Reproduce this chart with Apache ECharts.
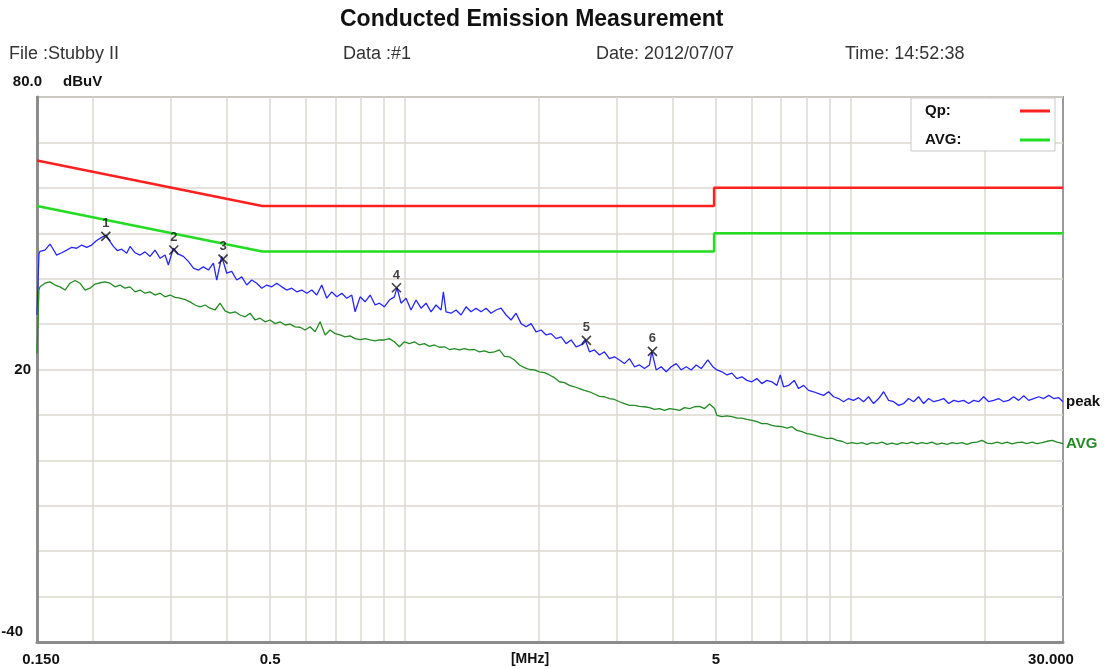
<!DOCTYPE html>
<html>
<head>
<meta charset="utf-8">
<title>Conducted Emission Measurement</title>
<script src="https://cdn.jsdelivr.net/npm/echarts@6/dist/echarts.min.js"></script>
<style>
    html, body { margin: 0; padding: 0; background: #fff; }
    #main { width: 1108px; height: 669px; }
</style>
</head>
<body>
<div id="main"></div>
<script>
// 限值线 (MHz / dBuV)
const qpLimitFreq = [0.15, 0.48, 4.95, 4.95, 30]
const qpLimitLevel = [66, 56, 56, 60, 60]
const avgLimitFreq = [0.15, 0.48, 4.95, 4.95, 30]
const avgLimitLevel = [56, 46, 46, 50, 50]

// peak 扫描曲线
const peakFreq = [
    0.150, 0.1515, 0.1523, 0.1563, 0.1604, 0.1626, 0.1660, 0.1704, 0.1749, 0.1794, 0.1841, 0.1889, 0.1939, 0.1989,
    0.2041, 0.2095, 0.2142, 0.2187, 0.2225, 0.2271, 0.2323, 0.2384, 0.2425, 0.2489, 0.2554, 0.2620, 0.2689, 0.2759,
    0.2832, 0.2906, 0.2956, 0.3033, 0.3113, 0.3194, 0.3278, 0.3364, 0.3452, 0.3542, 0.3635, 0.3730, 0.3795, 0.3894,
    0.3996, 0.4100, 0.4208, 0.4318, 0.4431, 0.4547, 0.4666, 0.4788, 0.4913, 0.5042, 0.5173, 0.5309, 0.5448, 0.5590,
    0.5736, 0.5887, 0.6041, 0.6199, 0.6361, 0.6527, 0.6698, 0.6873, 0.7053, 0.7238, 0.7427, 0.7622, 0.7754, 0.7957,
    0.8165, 0.8379, 0.8598, 0.8793,
    0.9018, 0.9255, 0.9496, 0.9628, 0.9829, 1.0086, 1.0350, 1.0621, 1.0899, 1.1185, 1.1478, 1.1778, 1.2086, 1.2232,
    1.2402, 1.2726, 1.3059, 1.3400, 1.3751, 1.4111, 1.4480, 1.4859, 1.5248, 1.5647, 1.6057, 1.6477, 1.6908, 1.7351,
    1.7805, 1.8271, 1.8749, 1.9240, 1.9743, 2.0260, 2.0790, 2.1334, 2.1893, 2.2466, 2.3054, 2.3659, 2.4275, 2.4910,
    2.5431, 2.6006, 2.6687, 2.7383, 2.8099, 2.8833, 2.9588, 3.0361, 3.1157, 3.1972, 3.2811, 3.3668, 3.4549, 3.5453,
    3.5892, 3.6706, 3.7671, 3.8657, 3.9669, 4.0707, 4.1772, 4.2865, 4.3987, 4.5138, 4.6318, 4.7941, 4.9197,
    5.022, 5.154, 5.289, 5.427, 5.568, 5.714, 5.863, 6.016, 6.173, 6.334, 6.501, 6.670, 6.845, 6.966, 7.086, 7.273,
    7.488, 7.658, 7.858, 8.063, 8.274, 8.491, 8.713, 8.941, 9.175, 9.415, 9.661, 9.914, 10.17, 10.44, 10.71, 10.99,
    11.28, 11.58, 11.88, 12.19, 12.51, 12.84, 13.17, 13.52, 13.87, 14.23, 14.61, 14.99, 15.38, 15.78, 16.20, 16.62,
    17.06, 17.50, 17.96, 18.43, 18.91, 19.41, 19.92, 20.44, 20.97, 21.52, 22.08, 22.66, 23.25, 23.86, 24.49, 25.13,
    25.78, 26.46, 27.15, 27.87, 28.60, 29.35, 30.00
]
const peakLevel = [
    32.0, 45.5, 46.0, 46.3, 47.6, 46.7, 45.2, 45.7, 46.3, 46.9, 46.7, 47.4, 46.9, 47.4,
    48.4, 49.1, 49.6, 48.2, 47.1, 46.2, 46.5, 45.6, 47.1, 45.7, 45.2, 45.9, 44.9, 46.3,
    44.5, 45.2, 43.0, 46.7, 45.4, 44.9, 43.8, 42.3, 41.9, 42.6, 41.9, 43.4, 39.7, 44.9,
    41.2, 41.6, 39.7, 40.4, 38.6, 39.7, 39.0, 37.9, 38.6, 38.2, 39.0, 38.2, 37.5, 37.9,
    37.1, 37.5, 36.8, 37.5, 36.4, 38.6, 35.7, 37.1, 36.0, 36.8, 35.7, 36.4, 32.7, 36.0,
    34.9, 36.4, 34.2, 34.6,
    33.8, 35.3, 36.0, 38.0, 34.6, 35.7, 33.1, 35.3, 33.5, 34.6, 32.7, 34.2, 33.1, 37.1,
    32.7, 32.4, 33.1, 32.0, 33.8, 32.7, 33.5, 32.7, 33.5, 32.4, 33.1, 33.5, 32.0, 30.9,
    32.4, 30.1, 29.4, 30.1, 28.3, 28.7, 27.6, 27.9, 26.8, 27.2, 25.7, 26.5, 25.0, 25.4,
    26.6, 23.9, 24.3, 23.2, 23.9, 22.4, 22.8, 22.1, 21.3, 22.4, 20.6, 21.0, 20.2, 21.0,
    24.0, 19.9, 20.6, 19.5, 20.6, 21.3, 19.9, 20.6, 19.9, 21.0, 20.2, 22.1, 20.6,
    19.9, 19.5, 18.8, 19.2, 18.0, 18.4, 17.6, 17.3, 18.0, 16.9, 17.6, 17.3, 16.5, 18.8, 16.2, 16.5,
    17.6, 15.8, 16.5, 15.4, 15.1, 14.7, 14.3, 15.1, 14.0, 13.6, 12.9, 13.6, 13.2, 13.8, 12.9, 14.0,
    12.5, 13.6, 15.1, 13.2, 12.9, 12.1, 12.5, 13.6, 12.9, 14.0, 12.5, 13.6, 12.9, 13.2, 13.6, 12.5,
    13.2, 12.9, 13.2, 12.5, 13.2, 12.9, 14.0, 12.9, 13.2, 13.6, 12.9, 13.2, 14.0, 13.2, 14.2, 13.2,
    13.6, 14.0, 13.6, 14.3, 13.6, 13.8, 12.9
]

// AVG 扫描曲线
const avgFreq = [
    0.150, 0.1515, 0.1523, 0.1563, 0.1604, 0.1646, 0.1689, 0.1734, 0.1779, 0.1825, 0.1873, 0.1922, 0.1972, 0.2024,
    0.2077, 0.2131, 0.2187, 0.2244, 0.2303, 0.2363, 0.2425, 0.2489, 0.2554, 0.2620, 0.2689, 0.2759, 0.2832, 0.2906,
    0.2982, 0.3060, 0.3140, 0.3222, 0.3306, 0.3393, 0.3481, 0.3572, 0.3666, 0.3762, 0.3860, 0.3961, 0.4065, 0.4171,
    0.4281, 0.4393, 0.4508, 0.4626, 0.4747, 0.4871, 0.4998, 0.5129, 0.5263, 0.5401, 0.5542, 0.5687, 0.5836, 0.5989,
    0.6145, 0.6306, 0.6471, 0.6641, 0.6814, 0.6993, 0.7176, 0.7363, 0.7556, 0.7754, 0.7957, 0.8165, 0.8379, 0.8598,
    0.8793,
    0.9018, 0.9255, 0.9496, 0.9745, 1.0000, 1.0262, 1.0530, 1.0806, 1.1089, 1.1379, 1.1677, 1.1982, 1.2296, 1.2617,
    1.2947, 1.3285, 1.3633, 1.3990, 1.4356, 1.4732, 1.5117, 1.5513, 1.5919, 1.6336, 1.6763, 1.7202, 1.7652, 1.8114,
    1.8588, 1.9075, 1.9574, 2.0086, 2.0612, 2.1151, 2.1705, 2.2273, 2.2856, 2.3454, 2.4067, 2.4697, 2.5343, 2.6006,
    2.6687, 2.7383, 2.8099, 2.8833, 2.9588, 3.0361, 3.1157, 3.1972, 3.2811, 3.3668, 3.4549, 3.5453, 3.6392, 3.7348,
    3.8326, 3.9329, 4.0358, 4.1414, 4.2498, 4.3610, 4.4751, 4.5921, 4.7124, 4.8356, 4.9622,
    5.022, 5.154, 5.289, 5.427, 5.568, 5.714, 5.863, 6.016, 6.173, 6.334, 6.501, 6.670, 6.845, 7.026, 7.212, 7.400,
    7.592, 7.790, 7.994, 8.203, 8.418, 8.638, 8.864, 9.096, 9.335, 9.579, 9.829, 10.09, 10.35, 10.62, 10.90, 11.18,
    11.48, 11.78, 12.09, 12.40, 12.73, 13.06, 13.40, 13.75, 14.11, 14.48, 14.86, 15.25, 15.65, 16.06, 16.48, 16.91,
    17.35, 17.81, 18.27, 18.75, 19.24, 19.74, 20.26, 20.79, 21.34, 21.90, 22.47, 23.05, 23.66, 24.28, 24.91, 25.56,
    26.23, 26.92, 27.63, 28.35, 29.09, 30.00
]
const avgLevel = [
    23.5, 37.5, 38.2, 39.0, 39.3, 38.6, 38.2, 37.5, 39.0, 39.6, 39.0, 37.5, 37.9, 38.8,
    39.1, 39.3, 39.0, 38.2, 38.6, 37.9, 38.2, 37.1, 37.5, 36.8, 37.1, 36.4, 36.8, 36.0,
    36.4, 35.9, 35.7, 35.4, 34.9, 34.2, 33.8, 34.2, 33.5, 33.1, 34.6, 32.9, 32.4, 32.7,
    32.0, 31.6, 32.4, 30.9, 31.3, 30.5, 30.9, 30.1, 30.5, 29.8, 30.0, 29.4, 29.3, 28.7,
    29.4, 28.3, 30.5, 27.6, 28.7, 27.9, 27.6, 27.2, 27.4, 26.8, 26.6, 26.8, 26.5, 26.3,
    26.5,
    26.5, 26.8, 26.1, 25.0, 26.1, 25.7, 26.1, 25.4, 25.7, 25.1, 25.4, 24.9, 25.0, 24.4,
    24.6, 24.3, 24.6, 24.3, 24.4, 23.9, 24.1, 23.7, 23.9, 24.3, 22.9, 22.8, 22.1, 21.0,
    20.4, 20.0, 19.9, 19.5, 19.3, 18.8, 18.2, 17.3, 17.1, 16.5, 16.2, 15.8, 15.4, 15.1,
    14.6, 14.1, 14.0, 13.6, 13.4, 12.9, 12.5, 12.1, 12.1, 11.9, 11.8, 11.6, 11.2, 11.4,
    11.0, 11.4, 11.2, 11.0, 11.6, 11.4, 11.8, 11.9, 11.4, 12.4, 11.4,
    9.9, 9.6, 9.8, 9.6, 9.3, 9.3, 9.0, 8.8, 8.5, 8.1, 8.1, 7.7, 7.5, 7.4, 7.1, 7.4,
    6.6, 6.3, 5.9, 5.7, 5.4, 5.1, 4.8, 4.9, 4.4, 4.2, 3.7, 3.9, 3.7, 3.9, 3.5, 3.9,
    3.7, 4.0, 3.5, 3.8, 3.5, 3.9, 3.7, 4.0, 3.6, 3.9, 3.7, 4.0, 3.5, 3.8, 3.5, 3.9,
    3.7, 3.9, 3.5, 3.9, 4.0, 4.4, 3.8, 3.7, 4.0, 3.7, 4.0, 3.6, 3.9, 4.0, 3.7, 4.0,
    3.7, 3.9, 4.2, 4.4, 4.0, 3.7
]

// 标记点 1~6
const markerFreq = [0.214, 0.304, 0.392, 0.96, 2.56, 3.60]
const markerLevel = [49.3, 46.3, 44.3, 38.0, 26.4, 24.0]

// 坐标轴刻度
const xGridValues = [0.2, 0.3, 0.4, 0.5, 0.6, 0.7, 0.8, 0.9, 1, 2, 3, 4, 5, 6, 7, 8, 9, 10, 20]
const xLabelValues = [0.15, 0.5, 5, 30]
const xLabelText = ['{first|0.150}', '0.5', '5', '{last|30.000}']

const toPairs = (xs, ys) => xs.map((x, i) => [x, ys[i]])

var font = '"Liberation Sans", Arial, sans-serif'
var myChart = echarts.init(document.getElementById('main'));

var infoStyle = { fontSize: 18, fontWeight: 'normal', color: '#333', fontFamily: font }
var boldText = { fontSize: 15, fontWeight: 'bold', color: '#111', fontFamily: font }

var option = {
    backgroundColor: '#fff',
    animation: false,
    title: [
        { text: 'Conducted Emission Measurement', left: 340, top: 8, padding: 0,
          textStyle: { fontSize: 23, fontWeight: 'bold', color: '#111', fontFamily: font } },
        { text: 'File :Stubby II', left: 9, top: 45, padding: 0, textStyle: infoStyle },
        { text: 'Data :#1', left: 343, top: 45, padding: 0, textStyle: infoStyle },
        { text: 'Date: 2012/07/07', left: 596, top: 45, padding: 0, textStyle: infoStyle },
        { text: 'Time: 14:52:38', left: 845, top: 45, padding: 0, textStyle: infoStyle }
    ],
    grid: {
        left: 37, right: 45, top: 97, bottom: 27,
        containLabel: false,
        outerBoundsMode: 'none',
        show: true, borderColor: '#999', borderWidth: 2, backgroundColor: '#fff'
    },
    legend: {
        data: ['Qp', 'AVG'],
        orient: 'vertical',
        right: 53, top: 98,
        align: 'right',
        padding: [4, 5, 2, 14],
        itemGap: 11,
        itemWidth: 30, itemHeight: 3,
        icon: 'rect',
        backgroundColor: '#fff',
        borderColor: '#c8c8c8', borderWidth: 1,
        formatter: name => '{t|' + name + ':}',
        textStyle: {
            ...boldText, lineHeight: 18,
            rich: { t: { ...boldText, width: 90, align: 'left', lineHeight: 18 } }
        }
    },
    xAxis: {
        type: 'log',
        logBase: 10,
        min: 0.15,
        max: 30,
        name: '[MHz]',
        nameLocation: 'middle',
        nameGap: 10,
        nameMoveOverlap: false,
        nameTextStyle: { ...boldText, fontSize: 14, padding: [0, 40, 0, 0] },
        axisLine: { show: true, onZero: false, lineStyle: { color: '#8c8c8c', width: 3 } },
        axisTick: { show: false, customValues: xGridValues },
        splitLine: { show: true, lineStyle: { color: '#dcd8d0', width: 1.5 } },
        axisLabel: {
            customValues: xLabelValues,
            margin: 10,
            ...boldText,
            formatter: v => {
                const i = xLabelValues.findIndex(t => Math.abs(t - v) < 1e-6)
                return i >= 0 ? xLabelText[i] : ''
            },
            rich: {
                first: { ...boldText, padding: [0, 0, 0, 8] },
                last: { ...boldText, padding: [0, 24, 0, 0] }
            }
        }
    },
    yAxis: {
        type: 'value',
        min: -40,
        max: 80,
        interval: 10,
        name: 'dBuV',
        nameLocation: 'end',
        nameGap: 8,
        nameMoveOverlap: false,
        nameTextStyle: { ...boldText, align: 'left', padding: [0, 0, 0, 26] },
        axisLine: { show: true, onZero: false, lineStyle: { color: '#8c8c8c', width: 3 } },
        axisTick: { show: false },
        splitLine: { show: true, lineStyle: { color: '#dcd8d0', width: 1.5 } },
        axisLabel: {
            margin: -5,
            ...boldText,
            formatter: v => v === 80 ? '{top|80.0}' : (v === 20 ? '{mid|20}' : (v === -40 ? '{low|-40}' : '')),
            rich: {
                top: { ...boldText, padding: [0, 0, 30, 0] },
                mid: { ...boldText, padding: [0, 11, 0, 0] },
                low: { ...boldText, padding: [0, 19, 20, 0] }
            }
        }
    },
    series: [
        {
            name: 'Qp', type: 'line', data: toPairs(qpLimitFreq, qpLimitLevel),
            showSymbol: false, z: 3,
            itemStyle: { color: '#ff2020' },
            lineStyle: { color: '#ff2020', width: 2.5 }
        },
        {
            name: 'AVG', type: 'line', data: toPairs(avgLimitFreq, avgLimitLevel),
            showSymbol: false, z: 3,
            itemStyle: { color: '#22dd22' },
            lineStyle: { color: '#22dd22', width: 2.5 }
        },
        {
            name: 'peak', type: 'line', data: toPairs(peakFreq, peakLevel),
            showSymbol: false, z: 2,
            itemStyle: { color: '#2626ff' },
            lineStyle: { color: '#2626ff', width: 1.3 },
            endLabel: { show: true, formatter: 'peak', distance: 3, ...boldText }
        },
        {
            name: 'AVG level', type: 'line', data: toPairs(avgFreq, avgLevel),
            showSymbol: false, z: 2,
            itemStyle: { color: '#228b22' },
            lineStyle: { color: '#228b22', width: 1.3 },
            endLabel: { show: true, formatter: 'AVG', distance: 3, ...boldText, color: '#228b22' }
        },
        {
            name: 'markers', type: 'scatter', data: toPairs(markerFreq, markerLevel),
            symbol: 'path://M0 0L10 10M10 0L0 10',
            symbolSize: 9, z: 5,
            itemStyle: { color: 'rgba(0,0,0,0)', borderColor: '#111', borderWidth: 1.6 },
            label: {
                show: true, position: 'top', distance: 1,
                ...boldText, fontSize: 13,
                formatter: p => String(p.dataIndex + 1)
            }
        }
    ]
};

myChart.setOption(option);
</script>
</body>
</html>
